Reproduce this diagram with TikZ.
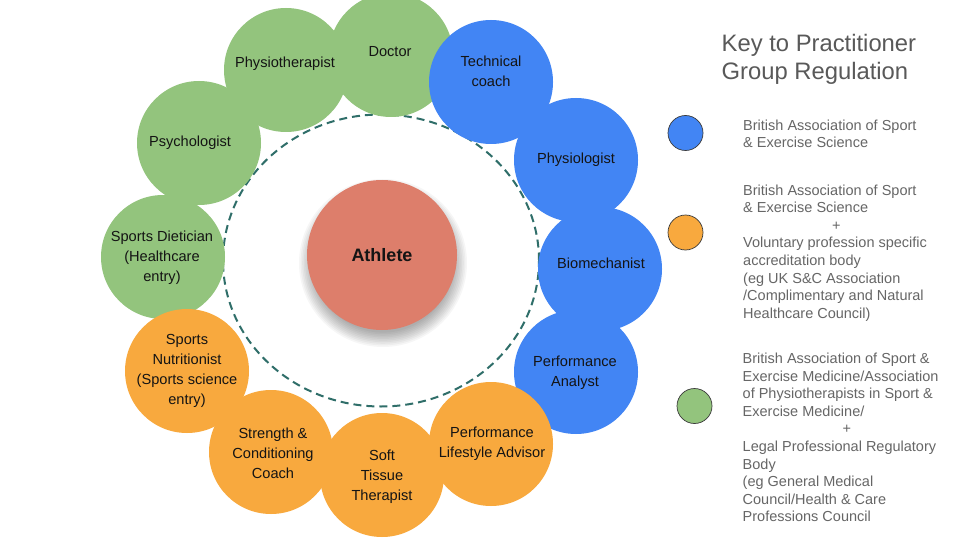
\documentclass[tikz,border=0pt]{standalone}
\usepackage{fontspec}
\setmainfont{Liberation Sans}
\definecolor{pgreen}{HTML}{93C47D}
\definecolor{pblue}{HTML}{4285F4}
\definecolor{porange}{HTML}{F8A93E}
\definecolor{pred}{HTML}{DD7E6B}
\definecolor{pteal}{HTML}{2F6E69}
\definecolor{titlegray}{HTML}{595959}
\definecolor{keygray}{HTML}{666666}
\definecolor{keyline}{HTML}{3A3A3A}
\tikzset{
  pcirc/.style={circle, minimum size=124pt, inner sep=0pt, draw=none},
  lab/.style={font=\fontsize{14.6}{20}\selectfont, align=center, text=black!92, inner sep=0pt},
  keydot/.style={circle, minimum size=35pt, inner sep=0pt, draw=keyline, line width=0.7pt},
  keytext/.style={font=\fontsize{14.5}{17.6}\selectfont, align=left, text=keygray, inner sep=0pt, anchor=north west},
  ringline/.style={draw=pteal, line width=2pt, dash pattern=on 8pt off 5pt}
}
\begin{document}
\begin{tikzpicture}[x=1pt,y=-1pt]
\useasboundingbox (0,0) rectangle (960,540);
\fill[white] (0,0) rectangle (960,540);
\clip (0,0) rectangle (960,540);

% dashed ring
\coordinate (ringc) at (381,260.5);
\draw[ringline] (ringc) ellipse [x radius=158pt, y radius=146pt];

% athlete shadow
\foreach \k in {0,...,9}{
  \fill[black, opacity=0.035] (383,263) circle ({84pt-1.6pt*\k});
}
\node[circle, minimum size=150pt, inner sep=0pt, fill=pred,
      font=\fontsize{18}{20}\selectfont\bfseries, text=black!92] (athlete) at (382,255) {Athlete};

% green
\node[pcirc, fill=pgreen] (doctor) at (391,55) {};
\node[pcirc, fill=pgreen] (physio) at (286,70) {};
\node[pcirc, fill=pgreen] (psych) at (199,143) {};
\node[pcirc, fill=pgreen] (diet) at (163,257) {};
% blue
\node[pcirc, fill=pblue] (tech) at (491,82) {};
\node[pcirc, fill=pblue] (physiol) at (576,160) {};
\node[pcirc, fill=pblue] (biomech) at (600,269) {};
\node[pcirc, fill=pblue] (analyst) at (576,372) {};
% orange
\node[pcirc, fill=porange] (nutri) at (187,371) {};
\node[pcirc, fill=porange] (strength) at (271,452) {};
\node[pcirc, fill=porange] (soft) at (382,475) {};
\node[pcirc, fill=porange] (lifestyle) at (491,444) {};

% labels
\node[lab] (doctor-t) at (390,52) {Doctor};
\node[lab] (physio-t) at (285,64) {Physiotherapist};
\node[lab] (psych-t) at (190,143) {Psychologist};
\node[lab] (diet-t) at (162,258) {Sports Dietician\\(Healthcare\\entry)};
\node[lab] (tech-t) at (491,71) {Technical\\coach};
\node[lab] (physiol-t) at (576,160) {Physiologist};
\node[lab] (biomech-t) at (601,263) {Biomechanist};
\node[lab] (analyst-t) at (575,373) {Performance\\Analyst};
\node[lab] (nutri-t) at (187,371) {Sports\\Nutritionist\\(Sports science\\entry)};
\node[lab] (strength-t) at (273,453) {Strength \&\\Conditioning\\Coach};
\node[lab] (soft-t) at (382,477) {Soft\\Tissue\\Therapist};
\node[lab] (lifestyle-t) at (492,444) {Performance\\Lifestyle Advisor};

% key
\node[font=\fontsize{23.8}{28}\selectfont, align=left, text=titlegray, inner sep=0pt, anchor=north west]
  (title) at (721.5,34) {Key to Practitioner\\Group Regulation};

\node[keydot, fill=pblue] (kblue) at (685.5,133) {};
\node[keydot, fill=porange] (korange) at (685.5,232.5) {};
\node[keydot, fill=pgreen] (kgreen) at (694.5,406) {};

\node[keytext] (kblue-t) at (743,119.5) {British Association of Sport\\\& Exercise Science};
\node[keytext] (korange-t) at (743,184.4) {British Association of Sport\\\& Exercise Science\\\hspace*{89pt}+\\Voluntary profession specific\\accreditation body\\(eg UK S\&C Association\\/Complimentary and Natural\\Healthcare Council)};
\node[keytext] (kgreen-t) at (742.5,352.8) {British Association of Sport \&\\Exercise Medicine/Association\\of Physiotherapists in Sport \&\\Exercise Medicine/\\\hspace*{100pt}+\\Legal Professional Regulatory\\Body\\(eg General Medical\\Council/Health \& Care\\Professions Council};
\end{tikzpicture}
\end{document}
